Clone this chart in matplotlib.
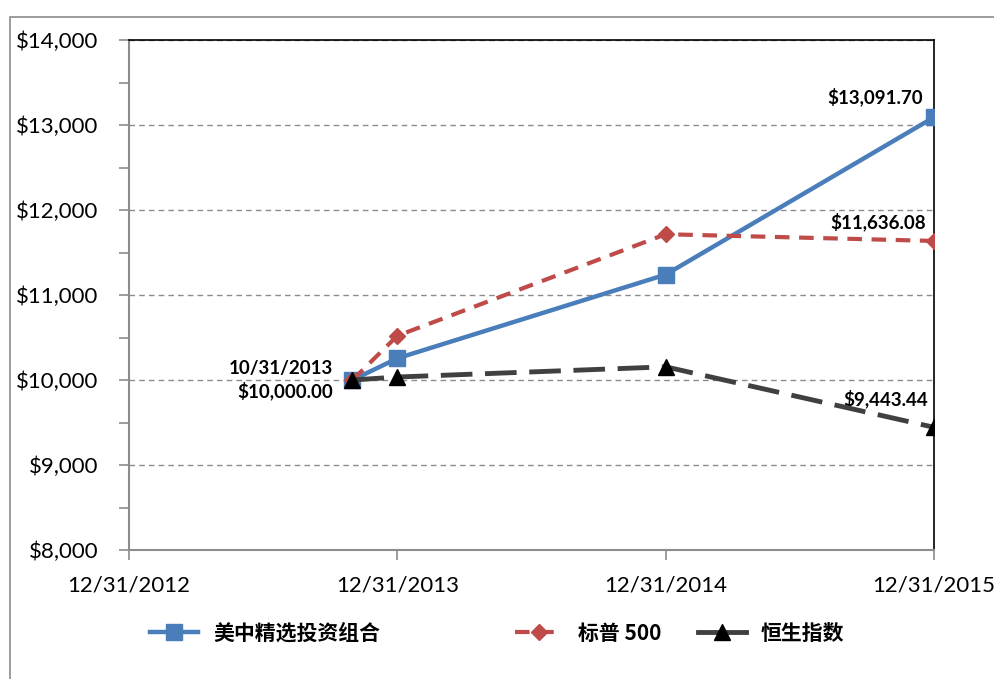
import matplotlib
matplotlib.use("Agg")
import matplotlib.pyplot as plt
import matplotlib.dates as mdates
from matplotlib.lines import Line2D
from matplotlib.patches import Rectangle
from matplotlib.ticker import FuncFormatter, MultipleLocator
from datetime import datetime

plt.rcParams['font.family'] = ['Lato', 'Noto Sans CJK SC', 'DejaVu Sans']

# data
dates = [datetime(2013, 10, 31), datetime(2013, 12, 31),
         datetime(2014, 12, 31), datetime(2015, 12, 31)]
portfolio = [10000.00, 10255, 11240, 13091.70]
sp500 = [10000.00, 10520, 11715, 11636.08]
hsi = [10000.00, 10035, 10155, 9443.44]
series_names = ['美中精选投资组合', '标普 500', '恒生指数']
tick_dates = [datetime(2012, 12, 31), datetime(2013, 12, 31),
              datetime(2014, 12, 31), datetime(2015, 12, 31)]

blue = '#4a7ebb'
red = '#be4b48'
dark = '#404040'

fig = plt.figure(figsize=(9.94, 6.79), dpi=100)
ax = fig.add_axes([129 / 994, 1 - 550 / 679, (934 - 129) / 994, (550 - 40) / 679])

# outer frame (cut at right/bottom like the source)
fig.patches.append(Rectangle((10 / 994, -0.1), 1.2, 1 - 17 / 679 + 0.1,
                             transform=fig.transFigure, fill=False,
                             edgecolor='#8c8c8c', linewidth=1.2))

ax.plot(dates, portfolio, color=blue, lw=3.2, marker='s', ms=11,
        markeredgecolor=blue, zorder=3)
ax.plot(dates, sp500, color=red, lw=3, dashes=(3.5, 2.3), marker='D', ms=8,
        markeredgecolor=red, zorder=3)
ax.plot(dates, hsi, color=dark, lw=3.5, dashes=(6.5, 2.6), marker='^', ms=12,
        markerfacecolor='black', markeredgecolor='black', zorder=4)

ax.set_xlim(tick_dates[0], tick_dates[-1])
ax.set_ylim(8000, 14000)
ax.set_xticks(tick_dates)
ax.xaxis.set_major_formatter(mdates.DateFormatter('%m/%d/%Y'))
ax.yaxis.set_major_locator(MultipleLocator(1000))
ax.yaxis.set_minor_locator(MultipleLocator(500))
ax.yaxis.set_major_formatter(FuncFormatter(lambda v, p: f'${v:,.0f}'))

ax.grid(axis='y', which='major', color='#8c8c8c', ls=(0, (4, 3)), lw=1)
ax.set_axisbelow(True)

for s in ['left', 'bottom']:
    ax.spines[s].set_color('#8c8c8c')
    ax.spines[s].set_linewidth(1.5)
for s in ['top', 'right']:
    ax.spines[s].set_color('black')
    ax.spines[s].set_linewidth(1.2)

ax.tick_params(axis='y', which='major', direction='out', length=7, width=1.2,
               color='#8c8c8c', labelsize=16, pad=15)
ax.tick_params(axis='y', which='minor', direction='out', length=7, width=1.2,
               color='#8c8c8c')
ax.tick_params(axis='x', direction='out', length=7, width=1.2,
               color='#8c8c8c', labelsize=16, pad=11)

# value labels
lab = dict(fontsize=13.5, fontweight='bold', ha='right')
ax.annotate('10/31/2013\n$10,000.00', (dates[0], 10000), xytext=(-14, 0),
            textcoords='offset points', va='center', linespacing=1.25, **lab)
ax.annotate(f'${portfolio[-1]:,.2f}', (dates[-1], portfolio[-1]), xytext=(-8, 8),
            textcoords='offset points', va='bottom', **lab)
ax.annotate(f'${sp500[-1]:,.2f}', (dates[-1], sp500[-1]), xytext=(-6, 7),
            textcoords='offset points', va='bottom', **lab)
ax.annotate(f'${hsi[-1]:,.2f}', (dates[-1], hsi[-1]), xytext=(-4, 14),
            textcoords='offset points', va='bottom', **lab)

# legend, three separate entries as in the source
handles = [
    Line2D([], [], color=blue, lw=3.2, marker='s', ms=11, markeredgecolor=blue),
    Line2D([], [], color=red, lw=3, dashes=(3.5, 2.3), marker='D', ms=8, markeredgecolor=red),
    Line2D([], [], color=dark, lw=3.5, marker='^', ms=12,
           markerfacecolor='black', markeredgecolor='black'),
]
xpos = [140, 505, 688]
for h, name, x in zip(handles, series_names, xpos):
    fig.legend([h], [name], loc='center left', bbox_to_anchor=(x / 994, 1 - 633 / 679),
               frameon=False, handlelength=2.3, handletextpad=0.7, borderpad=0,
               prop={'family': ['Noto Sans CJK SC'], 'weight': 'bold', 'size': 15})

fig.savefig('out.png', dpi=100)
